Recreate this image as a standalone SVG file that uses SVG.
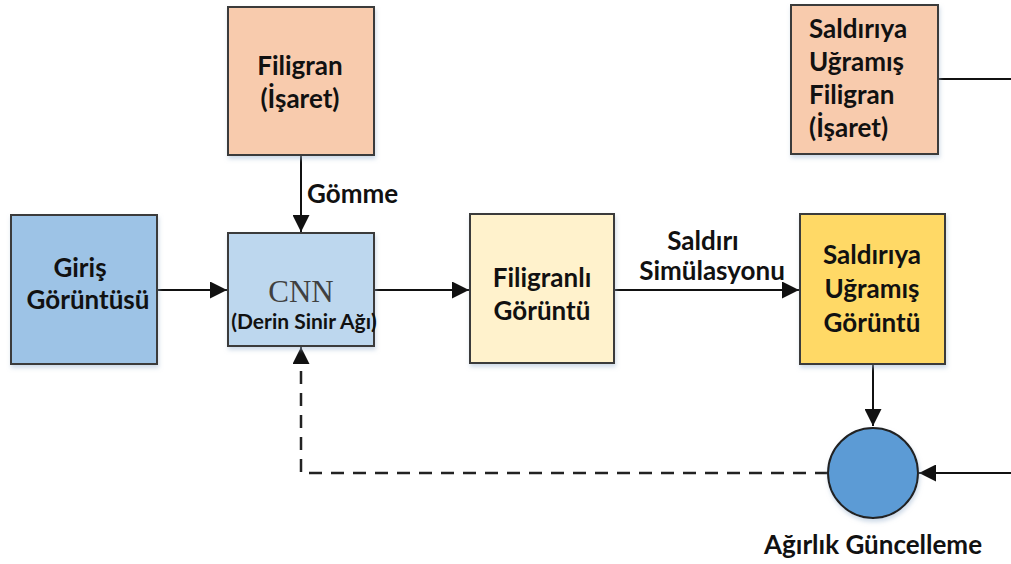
<svg xmlns="http://www.w3.org/2000/svg" width="1011" height="564" viewBox="0 0 1011 564">
<defs>
<style>
.box{stroke:#3a3a3a;stroke-width:2}
.t{font-family:Lato,"Liberation Sans",sans-serif;font-weight:bold;font-size:26px;fill:#111;text-anchor:middle}
.c{stroke:#111;stroke-width:2;fill:none}
.d{stroke:#222;stroke-width:2.5;fill:none;stroke-dasharray:13 9}
</style>
<marker id="ah" viewBox="0 0 10 10" refX="10" refY="5" markerWidth="17" markerHeight="17" markerUnits="userSpaceOnUse" orient="auto">
<path d="M0,0 L10,5 L0,10 z" fill="#111"/>
</marker>
<filter id="sh" x="-10%" y="-10%" width="130%" height="130%">
<feDropShadow dx="1" dy="3" stdDeviation="2" flood-color="#9fb6d0" flood-opacity="0.5"/>
</filter>
</defs>
<rect width="1011" height="564" fill="#fff"/>
<g id="connectors">
<line class="c" x1="301" y1="155" x2="301" y2="232" marker-end="url(#ah)"/>
<line class="c" x1="157" y1="290" x2="227" y2="290" marker-end="url(#ah)"/>
<line class="c" x1="374" y1="290" x2="469" y2="290" marker-end="url(#ah)"/>
<line class="c" x1="614" y1="290" x2="799" y2="290" marker-end="url(#ah)"/>
<line class="c" x1="873" y1="364" x2="873" y2="426" marker-end="url(#ah)"/>
<line class="c" x1="938" y1="79" x2="1011" y2="79"/>
<line class="c" x1="1011" y1="473" x2="919" y2="473" marker-end="url(#ah)"/>
<polyline class="d" points="828,473 301,473 301,362"/>
<line class="c" x1="301" y1="364" x2="301" y2="347" marker-end="url(#ah)"/>
<text class="t" x="307" y="203" style="text-anchor:start">Gömme</text>
<text class="t" x="703" y="250">Saldırı</text>
<text class="t" x="712" y="280">Simülasyonu</text>
</g>
<g id="filigran">
<rect class="box" x="228" y="7" width="146" height="148" fill="#F8CBAD" filter="url(#sh)"/>
<text class="t" x="300" y="75">Filigran</text>
<text class="t" x="300" y="108">(İşaret)</text>
</g>
<g id="saldiriya-filigran">
<rect class="box" x="791" y="5" width="147" height="149" fill="#F8CBAD" filter="url(#sh)"/>
<text class="t" x="809" y="38" style="text-anchor:start">Saldırıya</text>
<text class="t" x="809" y="71" style="text-anchor:start">Uğramış</text>
<text class="t" x="809" y="104" style="text-anchor:start">Filigran</text>
<text class="t" x="809" y="137" style="text-anchor:start">(İşaret)</text>
</g>
<g id="giris">
<rect class="box" x="11" y="215" width="146" height="149" fill="#9DC3E6" filter="url(#sh)"/>
<text class="t" x="80" y="277">Giriş</text>
<text class="t" x="88" y="309">Görüntüsü</text>
</g>
<g id="cnn">
<rect class="box" x="228" y="233" width="146" height="113" fill="#BDD7EE" filter="url(#sh)"/>
<text x="301" y="302" style="font-family:'Liberation Serif',serif;font-size:31px;fill:#404040;text-anchor:middle">CNN</text>
<text class="t" x="304" y="329" style="font-size:21px">(Derin Sinir Ağı)</text>
</g>
<g id="filigranli">
<rect class="box" x="470" y="214" width="144" height="149" fill="#FFF2CC" filter="url(#sh)"/>
<text class="t" x="542" y="287">Filigranlı</text>
<text class="t" x="542" y="320">Görüntü</text>
</g>
<g id="saldiriya-goruntu">
<rect class="box" x="800" y="214" width="145" height="150" fill="#FFD966" filter="url(#sh)"/>
<text class="t" x="872" y="264">Saldırıya</text>
<text class="t" x="872" y="298">Uğramış</text>
<text class="t" x="872" y="332">Görüntü</text>
</g>
<g id="agirlik">
<circle cx="873" cy="473" r="45" fill="#5B9BD5" stroke="#222" stroke-width="2" filter="url(#sh)"/>
<text class="t" x="873" y="554">Ağırlık Güncelleme</text>
</g>
</svg>
